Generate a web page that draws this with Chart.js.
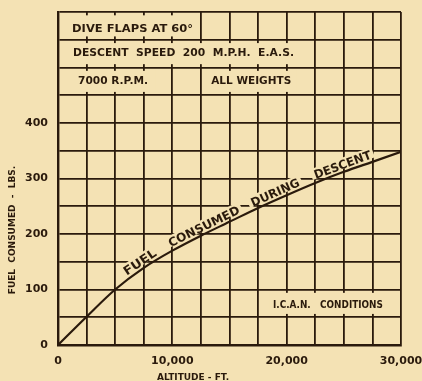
<!DOCTYPE html>
<html>
<head>
<meta charset="utf-8">
<script src="https://cdn.jsdelivr.net/npm/chart.js@4.4.0/dist/chart.umd.min.js"></script>
<style>
  html, body { margin: 0; padding: 0; background: #f4e2b4; }
  #wrap { width: 422px; height: 381px; position: relative; }
</style>
</head>
<body>
<div id="wrap"><canvas id="c"></canvas></div>
<script>
// ---- data ----
const altitudes = [0, 2500, 5000, 7500, 10000, 12500, 15000, 17500, 20000, 22500, 25000, 27500, 30000];
const fuelConsumed = [0, 51, 100, 139, 170, 197, 222, 247, 270, 292, 312, 330, 348];
const xTickValues = [0, 10000, 20000, 30000];
const xTickLabels = ['0', '10,000', '20,000', '30,000'];
const yTickValues = [0, 100, 200, 300, 400];
const yTickLabels = ['0', '100', '200', '300', '400'];
const curveWords = ['FUEL', 'CONSUMED', 'DURING', 'DESCENT'];
const curveWordAt = [7500, 13030, 19240, 25100];
const curveWordW = [37, 78, 52, 60];
const noteTexts = ['DIVE FLAPS AT 60°', 'DESCENT  SPEED  200  M.P.H.  E.A.S.', '7000 R.P.M.', 'ALL WEIGHTS', 'I.C.A.N.   CONDITIONS'];
const noteX = [1230, 1310, 1750, 13400, 18800];
const noteY = [569, 526, 475, 475, 71];
const noteW = [121, 221, 70, 80, 110];
const noteBoxes = [[300, 12300, 556, 594], [300, 21200, 506, 544], [300, 8500, 456, 494], [13000, 20900, 456, 494], [18500, 28900, 56, 94]];

const INK = '#2a1a0c';
const BG = '#f4e2b4';
const FONT = '"DejaVu Sans", sans-serif';

function interpY(x) {
  for (let i = 0; i < altitudes.length - 1; i++) {
    if (x >= altitudes[i] && x <= altitudes[i + 1]) {
      const t = (x - altitudes[i]) / (altitudes[i + 1] - altitudes[i]);
      return fuelConsumed[i] + t * (fuelConsumed[i + 1] - fuelConsumed[i]);
    }
  }
  return fuelConsumed[fuelConsumed.length - 1];
}

function wordFrame(x, y, xv) {
  const dx = 700;
  const p0x = x.getPixelForValue(xv - dx), p0y = y.getPixelForValue(interpY(xv - dx));
  const p1x = x.getPixelForValue(xv + dx), p1y = y.getPixelForValue(interpY(xv + dx));
  return {
    ang: Math.atan2(p1y - p0y, p1x - p0x),
    cx: x.getPixelForValue(xv),
    cy: y.getPixelForValue(interpY(xv))
  };
}

function fitText(ctx, text, px, py, w) {
  const m = ctx.measureText(text).width;
  ctx.save();
  ctx.translate(px, py);
  ctx.scale(w / m, 1);
  ctx.fillText(text, 0, 0);
  ctx.restore();
}

const decor = {
  id: 'decor',
  beforeDatasetsDraw(chart) {
    const { ctx, scales: { x, y } } = chart;
    ctx.save();
    ctx.fillStyle = BG;
    noteBoxes.forEach(b => {
      const x0 = x.getPixelForValue(b[0]), x1 = x.getPixelForValue(b[1]);
      const y0 = y.getPixelForValue(b[3]), y1 = y.getPixelForValue(b[2]);
      ctx.fillRect(x0, y0, x1 - x0, y1 - y0);
    });
    curveWords.forEach((w, i) => {
      const f = wordFrame(x, y, curveWordAt[i]);
      ctx.save();
      ctx.translate(f.cx, f.cy);
      ctx.rotate(f.ang);
      ctx.fillRect(-curveWordW[i] / 2 - 3, -14, curveWordW[i] + 6, 11);
      ctx.restore();
    });
    ctx.restore();
  },
  afterDatasetsDraw(chart) {
    const { ctx, scales: { x, y } } = chart;
    ctx.save();
    ctx.fillStyle = INK;
    ctx.font = 'bold 11px ' + FONT;
    ctx.textBaseline = 'middle';
    ctx.textAlign = 'left';
    noteTexts.forEach((t, i) => {
      fitText(ctx, t, x.getPixelForValue(noteX[i]), y.getPixelForValue(noteY[i]), noteW[i]);
    });
    ctx.font = 'bold 12px ' + FONT;
    ctx.textAlign = 'center';
    ctx.textBaseline = 'alphabetic';
    curveWords.forEach((w, i) => {
      const f = wordFrame(x, y, curveWordAt[i]);
      ctx.save();
      ctx.translate(f.cx, f.cy);
      ctx.rotate(f.ang);
      fitText(ctx, w, 0, -3, curveWordW[i]);
      ctx.restore();
    });
    // axis titles
    ctx.font = 'bold 9px ' + FONT;
    ctx.textBaseline = 'middle';
    ctx.fillText('ALTITUDE - FT.', 193, 378);
    ctx.save();
    ctx.translate(13, 230);
    ctx.rotate(-Math.PI / 2);
    ctx.fillText('FUEL  CONSUMED  -  LBS.', 0, 0);
    ctx.restore();
    ctx.restore();
  }
};

new Chart(document.getElementById('c'), {
  type: 'line',
  data: {
    datasets: [{
      data: altitudes.map((a, i) => ({ x: a, y: fuelConsumed[i] })),
      borderColor: INK,
      borderWidth: 2.2,
      pointRadius: 0,
      fill: false,
      cubicInterpolationMode: 'monotone'
    }]
  },
  options: {
    responsive: true,
    maintainAspectRatio: false,
    animation: false,
    layout: { padding: { top: 12, right: 21, left: 0, bottom: 0 } },
    plugins: { legend: { display: false }, tooltip: { enabled: false } },
    scales: {
      x: {
        type: 'linear', min: 0, max: 30000,
        afterFit: s => { s.height = 36; s.paddingLeft = 0; s.paddingRight = 0; },
        grid: { color: INK, lineWidth: 1.8, drawTicks: false },
        border: { display: true, color: INK, width: 2.4 },
        ticks: {
          stepSize: 2500, autoSkip: false, maxRotation: 0, padding: 10,
          color: INK, font: { family: FONT, size: 11, weight: 'bold' },
          callback: v => { const i = xTickValues.indexOf(v); return i >= 0 ? xTickLabels[i] : ''; }
        }
      },
      y: {
        type: 'linear', min: 0, max: 600,
        afterFit: s => { s.width = 58; s.paddingTop = 0; s.paddingBottom = 0; },
        grid: { color: INK, lineWidth: 1.8, drawTicks: false },
        border: { display: true, color: INK, width: 2.4 },
        ticks: {
          stepSize: 50, autoSkip: false, padding: 10,
          color: INK, font: { family: FONT, size: 11, weight: 'bold' },
          callback: v => { const i = yTickValues.indexOf(v); return i >= 0 ? yTickLabels[i] : ''; }
        }
      }
    }
  },
  plugins: [decor]
});
</script>
</body>
</html>
